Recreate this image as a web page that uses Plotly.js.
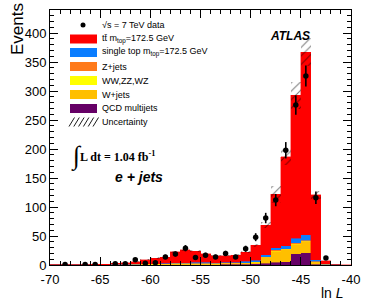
<!DOCTYPE html>
<html>
<head>
<meta charset="utf-8">
<script src="https://cdn.plot.ly/plotly-3.0.1.min.js"></script>
<style>html,body{margin:0;padding:0;background:#fff;}#chart{width:366px;height:302px;}</style>
</head>
<body>
<div id="chart"></div>
<script>
// ---- data (bins of width 1 in ln L, from -70 to -40) ----
const binCenters = [-69.5,-68.5,-67.5,-66.5,-65.5,-64.5,-63.5,-62.5,-61.5,-60.5,-59.5,-58.5,-57.5,-56.5,-55.5,-54.5,-53.5,-52.5,-51.5,-50.5,-49.5,-48.5,-47.5,-46.5,-45.5,-44.5,-43.5,-42.5,-41.5,-40.5];
const dataCounts = [null,1,null,1,1,null,2,2,9,3,4,14,19,29,13,17,14,20,14,28,48,81,112,198,276,326,116,12,null,null];
const dataErr    = [0,1,0,1,1,0,1.4,1.4,3,1.7,2,3.7,4.4,5.4,3.6,4.1,3.7,4.5,3.7,5.3,6.9,9,10.6,14.1,16.6,18.1,10.8,3.5,0,0];
const qcd     = [0.1,0.1,0.1,0.1,0.1,0.2,0.3,0.3,0.4,0.5,0.5,0.6,0.8,0.8,0.8,0.8,0.8,1,1,1,2,3,5,6,19,21,1.5,0.3,0.1,0];
const wjets   = [0.1,0.1,0.1,0.1,0.2,0.3,0.5,0.6,0.8,1,1.2,1.4,1.6,1.8,2,2,2,2,2,2.5,3,10,19,20,17,19,4,0.8,0.1,0];
const diboson = [0,0,0,0,0,0,0.1,0.1,0.1,0.1,0.1,0.1,0.2,0.2,0.2,0.2,0.2,0.2,0.2,0.2,0.3,0.5,0.7,0.8,1,1,0.3,0.1,0,0];
const zjets   = [0,0,0,0.05,0.1,0.1,0.1,0.1,0.2,0.2,0.2,0.3,0.3,0.3,0.3,0.3,0.3,0.3,0.3,0.4,0.5,1,1.3,1.2,1.5,1.5,0.5,0.1,0,0];
const singleTop = [0,0,0,0.05,0.1,0.1,0.2,0.2,0.3,0.4,0.5,0.6,0.8,1,1.2,1.5,1,1,1.5,2,2.5,3.5,4,5,8,10,3,0.5,0,0];
const ttbar   = [0.1,0.2,0.3,0.4,0.5,0.8,1.8,2.7,4.2,6.8,9.5,10,19.3,21.9,19.5,14.2,11.7,11.5,12,15.9,25.7,51,92,154,246.5,314.5,111.7,5.2,0.3,0.1];
const uncErr  = [0.03,0.03,0.04,0.05,0.08,0.12,0.25,0.3,0.5,0.7,1,1.1,1.8,2.1,2,1.6,1.3,1.3,1.4,1.8,2.8,6,15,14,23,24,7,0.6,0.03,0.01];

const xTickVals = [-70,-65,-60,-55,-50,-45,-40];
const xTickText = ["-70","-65","-60","-55","-50","-45","-40"];

const legendLabels = [
  "√s = 7 TeV data",
  "tt̄ m<sub>top</sub>=172.5 GeV",
  "single top m<sub>top</sub>=172.5 GeV",
  "Z+jets",
  "WW,ZZ,WZ",
  "W+jets",
  "QCD multijets",
  "Uncertainty"
];
const colors = {
  ttbar: "#FF0000", stop: "#0A7DFF", zjets: "#FF7A1A",
  diboson: "#FFFF00", wjets: "#FFBF00", qcd: "#660066"
};

// ---- build ----
const total = binCenters.map((_, i) => qcd[i] + wjets[i] + diboson[i] + zjets[i] + singleTop[i] + ttbar[i]);
const uncBase = total.map((t, i) => t - uncErr[i]);
const uncHeight = uncErr.map(e => 2 * e);

function barTrace(name, y, color) {
  return { type: "bar", name: name, x: binCenters, y: y, width: 1,
    marker: { color: color, line: { width: 0.4, color: color } }, showlegend: false, hoverinfo: "skip" };
}
const traces = [
  barTrace("QCD multijets", qcd, colors.qcd),
  barTrace("W+jets", wjets, colors.wjets),
  barTrace("WW,ZZ,WZ", diboson, colors.diboson),
  barTrace("Z+jets", zjets, colors.zjets),
  barTrace("single top", singleTop, colors.stop),
  barTrace("ttbar", ttbar, colors.ttbar),
  { type: "bar", name: "Uncertainty", x: binCenters, y: uncHeight, base: uncBase, width: 1,
    marker: { color: "rgba(0,0,0,0)", line: { width: 0 },
      pattern: { shape: "/", fgcolor: "#000", bgcolor: "rgba(0,0,0,0)", size: 6, solidity: 0.18, fillmode: "overlay" } },
    showlegend: false, hoverinfo: "skip" },
  { type: "scatter", mode: "markers", name: "data", x: binCenters, y: dataCounts,
    marker: { color: "#000", size: 5.5 },
    error_y: { type: "data", array: dataErr, visible: true, color: "#000", thickness: 1.6, width: 0 },
    showlegend: false, hoverinfo: "skip" }
];

// pixel helpers for the plot area (l=50, r=351, t=10, b=265)
const PL = 50, PR = 351, PT = 10, PB = 265;
const px = x => (x - PL) / (PR - PL);
const py = y => (PB - y) / (PB - PT);

const shapes = [];
const annotations = [];
const legY = [25, 39, 52.5, 66.5, 80.5, 94.5, 108.5, 122];
const swatchColors = [null, colors.ttbar, colors.stop, colors.zjets, colors.diboson, colors.wjets, colors.qcd, null];
legY.forEach((cy, i) => {
  if (i === 0) {
    shapes.push({ type: "circle", xref: "paper", yref: "paper", x0: px(80.5), x1: px(85.5), y0: py(cy + 2.5), y1: py(cy - 2.5),
      fillcolor: "#000", line: { width: 0 } });
  } else if (i === 7) {
    let d = "";
    for (let k = 0; k < 6; k++) {
      const xs = 69 + k * 4.8;
      d += `M${px(xs)},${py(cy + 4.5)}L${px(xs + 5.5)},${py(cy - 4.5)}`;
    }
    shapes.push({ type: "path", xref: "paper", yref: "paper", path: d, line: { color: "#000", width: 0.9 } });
  } else {
    shapes.push({ type: "rect", xref: "paper", yref: "paper", x0: px(70), x1: px(97), y0: py(cy + 4.5), y1: py(cy - 4.5),
      fillcolor: swatchColors[i], line: { width: 0 } });
  }
  annotations.push({ xref: "paper", yref: "paper", x: px(100), y: py(cy), xanchor: "left", yanchor: "middle",
    text: legendLabels[i], showarrow: false, font: { size: 9, color: "#000" } });
});

annotations.push(
  { xref: "paper", yref: "paper", x: px(312), y: py(27), text: "<b><i>ATLAS</i></b>", showarrow: false,
    font: { size: 12, color: "#000", family: "Liberation Sans" } },
  { xref: "paper", yref: "paper", x: px(69), y: py(156), text: "∫", showarrow: false,
    font: { size: 26, color: "#000", family: "Liberation Serif" } },
  { xref: "paper", yref: "paper", x: px(78), y: py(156), xanchor: "left", text: "<b>L dt = 1.04 fb<sup>-1</sup></b>", showarrow: false,
    font: { size: 12, color: "#000", family: "Liberation Serif" } },
  { xref: "paper", yref: "paper", x: px(112.5), y: py(177), text: "<b><i>e + jets</i></b>", showarrow: false,
    font: { size: 14, color: "#000", family: "Liberation Sans" } },
  { xref: "paper", yref: "paper", x: px(18), y: py(1), xanchor: "center", yanchor: "top", textangle: -90,
    text: "Events", showarrow: false, font: { size: 17, color: "#000" } },
  { xref: "paper", yref: "paper", x: px(346), y: py(293), xanchor: "right", yanchor: "middle",
    text: "ln <i>L</i>", showarrow: false, font: { size: 14, color: "#000" } }
);

const layout = {
  width: 366, height: 302,
  margin: { l: 50, r: 15, t: 10, b: 37, pad: 0 },
  paper_bgcolor: "#fff", plot_bgcolor: "#fff",
  font: { family: "Liberation Sans", size: 13, color: "#000" },
  barmode: "stack", bargap: 0,
  showlegend: false,
  xaxis: {
    range: [-70, -40], tickmode: "array", tickvals: xTickVals, ticktext: xTickText,
    ticks: "inside", ticklen: 8, tickwidth: 1, tickcolor: "#000",
    showline: true, linecolor: "#000", linewidth: 1, mirror: "allticks",
    showgrid: false, zeroline: false, ticklabelstandoff: 2,
    minor: { tickmode: "linear", tick0: 0, dtick: 1, ticks: "inside", ticklen: 4, tickcolor: "#000", showgrid: false },
    tickfont: { size: 13 }
  },
  yaxis: {
    range: [0, 440], tickmode: "linear", tick0: 0, dtick: 50,
    ticks: "inside", ticklen: 8, tickwidth: 1, tickcolor: "#000",
    showline: true, linecolor: "#000", linewidth: 1, mirror: "allticks",
    showgrid: false, zeroline: false,
    minor: { tickmode: "linear", tick0: 0, dtick: 10, ticks: "inside", ticklen: 4, tickcolor: "#000", showgrid: false },
    tickfont: { size: 13 }
  },
  shapes: shapes,
  annotations: annotations
};

Plotly.newPlot("chart", traces, layout, { staticPlot: true, displayModeBar: false });
</script>
</body>
</html>
